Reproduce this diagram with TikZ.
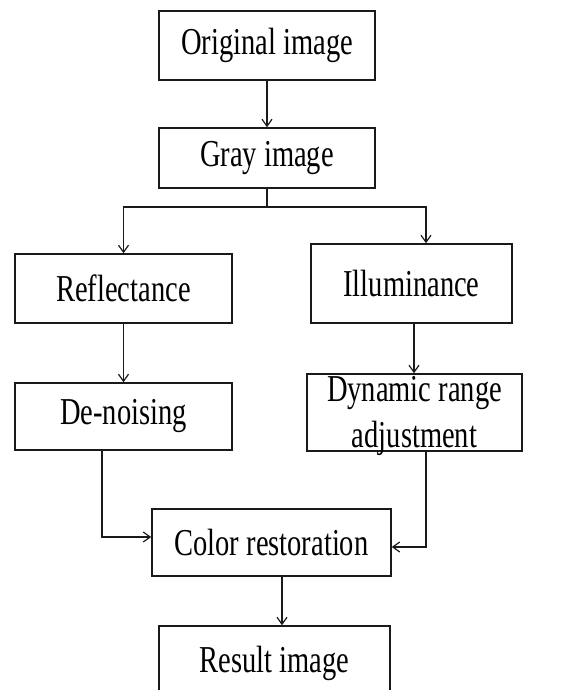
\documentclass[tikz,border=0pt]{standalone}
\usepackage{fontspec}
\setmainfont[FakeStretch=0.75]{Liberation Serif}
\usepackage{tikz}
\usetikzlibrary{
  arrows.meta,
  positioning,
  calc
}
\definecolor{ffLine}{HTML}{1A1A1A}
\tikzset{
  stagebox/.style={
    draw=ffLine, line width=1.5pt, inner xsep=2pt, inner ysep=0pt,
    align=center, font=\fontsize{38}{45}\selectfont
  },
  flow/.style={-{Straight Barb[length=7pt, width=10pt]}, line width=1.2pt, ffLine},
  link/.style={line width=1.2pt, ffLine}
}
\begin{document}
\begin{tikzpicture}[x=1pt, y=-1pt]
  \useasboundingbox (0,0) rectangle (568,690);
  % main chain
  \node[stagebox, minimum width=216, minimum height=69] (orig) at (267,45.5) {Original image};
  \node[stagebox, minimum width=216, minimum height=60] (gray) at (267,158) {Gray image};
  % two branches
  \node[stagebox, minimum width=217, minimum height=69] (refl) at (123.5,288.5) {Reflectance};
  \node[stagebox, minimum width=201, minimum height=79] (illum) at (411.5,283.5) {Illuminance};
  \node[stagebox, minimum width=217, minimum height=67] (denoise) at (123.5,416.5) {De-noising};
  \node[stagebox, minimum width=215, minimum height=77] (dyn) at (414.5,412.5) {};
  \node[font=\fontsize{38}{46}\selectfont, align=center, inner sep=0pt] (dyntext) at (414.5,416) {Dynamic range\\adjustment};
  % merge
  \node[stagebox, minimum width=239, minimum height=67] (color) at (271.5,542.5) {Color restoration};
  \node[stagebox, minimum width=231, minimum height=74] (result) at (274.5,663) {Result image};

  \coordinate (split) at (267,207);
  \coordinate (rjoin) at (426,207);

  \draw[flow] (orig.south) -- (gray.north);
  \draw[link] (gray.south) -- (split);
  \draw[flow] (split) -| (refl.north);
  \draw[flow] (split) -- (rjoin) -- (rjoin |- illum.north);
  \draw[flow] (refl.south) -- (denoise.north);
  \draw[flow] ([xshift=2.5]illum.south) -- ([xshift=-0.5]dyn.north);
  \draw[flow] ([xshift=-21.5]denoise.south) |- ([yshift=5.5]color.west);
  \draw[flow] ([xshift=11.5]dyn.south) |- ([yshift=-4.5]color.east);
  \draw[flow] ([xshift=10.5]color.south) -- ([xshift=7.5]result.north);
\end{tikzpicture}
\end{document}
